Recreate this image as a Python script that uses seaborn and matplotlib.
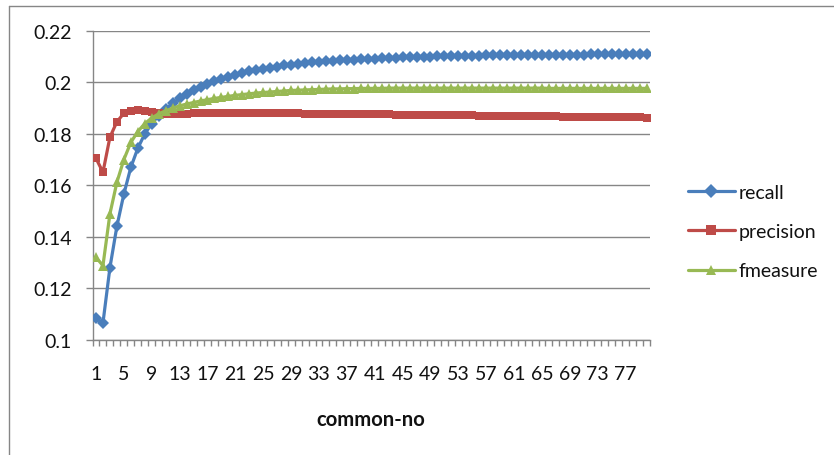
import matplotlib
matplotlib.use("Agg")
import numpy as np
import pandas as pd
import matplotlib.pyplot as plt
from matplotlib.lines import Line2D
import seaborn as sns

# ---- data -------------------------------------------------------------
common_no = list(range(1, 81))

recall = [
    0.1083, 0.1065, 0.1280, 0.1441, 0.1566, 0.1670, 0.1744, 0.1800, 0.1840, 0.1871,
    0.1897, 0.1919, 0.1938, 0.1955, 0.1970, 0.1983, 0.1995, 0.2005, 0.2014, 0.2022,
    0.2030, 0.2037, 0.2043, 0.2049, 0.2054, 0.2058, 0.2062, 0.2066, 0.2069, 0.2072,
    0.2075, 0.2078, 0.2080, 0.2082, 0.2084, 0.2086, 0.2088, 0.2089, 0.2091, 0.2092,
    0.2093, 0.2094, 0.2095, 0.2096, 0.2097, 0.2098, 0.2099, 0.2100, 0.2100, 0.2101,
    0.2102, 0.2102, 0.2103, 0.2103, 0.2104, 0.2104, 0.2105, 0.2105, 0.2105, 0.2106,
    0.2106, 0.2106, 0.2107, 0.2107, 0.2107, 0.2107, 0.2108, 0.2108, 0.2108, 0.2108,
    0.2108, 0.2109, 0.2109, 0.2109, 0.2109, 0.2109, 0.2109, 0.2110, 0.2110, 0.2110,
]

precision = [
    0.1705, 0.1651, 0.1787, 0.1847, 0.1880, 0.1889, 0.1891, 0.1890, 0.1887, 0.1882,
    0.1879, 0.1878, 0.1878, 0.1879, 0.1880, 0.1880, 0.1881, 0.1881, 0.1881, 0.1882,
    0.1882, 0.1882, 0.1882, 0.1882, 0.1881, 0.1881, 0.1881, 0.1880, 0.1880, 0.1880,
    0.1879, 0.1879, 0.1879, 0.1878, 0.1878, 0.1878, 0.1877, 0.1877, 0.1877, 0.1876,
    0.1876, 0.1876, 0.1876, 0.1875, 0.1875, 0.1875, 0.1874, 0.1874, 0.1874, 0.1873,
    0.1873, 0.1873, 0.1872, 0.1872, 0.1872, 0.1871, 0.1871, 0.1871, 0.1870, 0.1870,
    0.1870, 0.1869, 0.1869, 0.1869, 0.1868, 0.1868, 0.1868, 0.1867, 0.1867, 0.1867,
    0.1866, 0.1866, 0.1866, 0.1865, 0.1865, 0.1865, 0.1864, 0.1864, 0.1864, 0.1863,
]

fmeasure = [
    0.1320, 0.1288, 0.1489, 0.1612, 0.1700, 0.1767, 0.1809, 0.1840, 0.1862, 0.1878,
    0.1890, 0.1900, 0.1909, 0.1916, 0.1922, 0.1928, 0.1933, 0.1938, 0.1942, 0.1946,
    0.1950, 0.1953, 0.1956, 0.1959, 0.1961, 0.1963, 0.1965, 0.1967, 0.1969, 0.1970,
    0.1971, 0.1972, 0.1973, 0.1974, 0.1975, 0.1975, 0.1976, 0.1976, 0.1977, 0.1977,
    0.1977, 0.1977, 0.1978, 0.1978, 0.1978, 0.1978, 0.1978, 0.1978, 0.1978, 0.1978,
    0.1978, 0.1978, 0.1978, 0.1978, 0.1978, 0.1978, 0.1978, 0.1978, 0.1978, 0.1978,
    0.1978, 0.1978, 0.1978, 0.1978, 0.1978, 0.1977, 0.1977, 0.1977, 0.1977, 0.1977,
    0.1977, 0.1977, 0.1977, 0.1977, 0.1977, 0.1977, 0.1977, 0.1977, 0.1977, 0.1977,
]

series_names = ["recall", "precision", "fmeasure"]
series_colors = {"recall": "#4A7EBB", "precision": "#BE4B48", "fmeasure": "#98B954"}
series_markers = {"recall": "D", "precision": "s", "fmeasure": "^"}
marker_sizes = {"D": 6.2, "s": 6.3, "^": 7.3}

y_ticks = [0.10, 0.12, 0.14, 0.16, 0.18, 0.20, 0.22]
y_tick_labels = ["0.1", "0.12", "0.14", "0.16", "0.18", "0.2", "0.22"]
x_tick_values = list(range(1, 80, 4))
x_tick_labels = [str(v) for v in x_tick_values]

# ---- style ------------------------------------------------------------
sns.set_style("white")
plt.rcParams["font.family"] = ["Lato", "DejaVu Sans"]
TEXT = "#111111"
GRID = "#868686"
FS = 14

df = pd.DataFrame({
    "common-no": common_no * 3,
    "value": recall + precision + fmeasure,
    "series": ["recall"] * len(recall) + ["precision"] * len(precision)
              + ["fmeasure"] * len(fmeasure),
})

fig = plt.figure(figsize=(8.34, 4.56), dpi=100)
W, H = 834, 456
ax = fig.add_axes([92.5 / W, 1 - 340.7 / H, (650 - 92.5) / W, (340.7 - 32) / H])

sns.lineplot(
    data=df, x="common-no", y="value",
    hue="series", style="series",
    hue_order=series_names, style_order=series_names,
    palette=series_colors, markers=series_markers, dashes=False,
    linewidth=2.3, markeredgewidth=0, legend=False, ax=ax,
)
for i, line in enumerate(ax.lines):
    line.set_markersize(marker_sizes.get(line.get_marker(), 6))
    line.set_zorder(3 + i)

# axes limits and ticks
ax.set_xlim(0.5, 80.5)
ax.set_ylim(0.1, 0.22)
ax.set_yticks(y_ticks)
ax.set_yticklabels(y_tick_labels)
ax.set_xticks(x_tick_values)
ax.set_xticklabels(x_tick_labels)
ax.set_xticks(np.arange(0.5, 81, 1.0), minor=True)

ax.tick_params(axis="x", which="major", length=0, pad=18, labelsize=FS, labelcolor=TEXT)
ax.tick_params(axis="x", which="minor", length=4.3, width=1, color=GRID, direction="out")
ax.tick_params(axis="y", which="major", length=5, width=1, color=GRID, direction="out",
               pad=10, labelsize=FS, labelcolor=TEXT)
ax.tick_params(axis="both", which="both", bottom=True, left=True)

ax.yaxis.grid(True, color=GRID, linewidth=1)
ax.xaxis.grid(False)
ax.set_axisbelow(True)

for side in ("top", "right"):
    ax.spines[side].set_visible(False)
for side in ("left", "bottom"):
    ax.spines[side].set_color(GRID)
    ax.spines[side].set_linewidth(1)

ax.set_xlabel("common-no", fontsize=14.6, fontweight="bold", color=TEXT, labelpad=20)
ax.set_ylabel("")

# legend
handles = [
    Line2D([], [], color=series_colors[n], marker=series_markers[n],
           markersize=marker_sizes[series_markers[n]] + 0.5, markeredgewidth=0, linewidth=2.3)
    for n in series_names
]
fig.legend(handles, series_names, loc="center left",
           bbox_to_anchor=(688 / W, 1 - 232.5 / H), frameon=False,
           fontsize=FS, labelcolor=TEXT, handlelength=2.4, handletextpad=0.2,
           labelspacing=1.15, borderpad=0, borderaxespad=0)

# chart-area border (top and left edges)
fig.add_artist(Line2D([9 / W, 1], [1 - 7 / H, 1 - 7 / H], transform=fig.transFigure,
                      color=GRID, linewidth=1))
fig.add_artist(Line2D([9 / W, 9 / W], [0, 1 - 7 / H], transform=fig.transFigure,
                      color=GRID, linewidth=1))

fig.savefig("out.png", dpi=100)
